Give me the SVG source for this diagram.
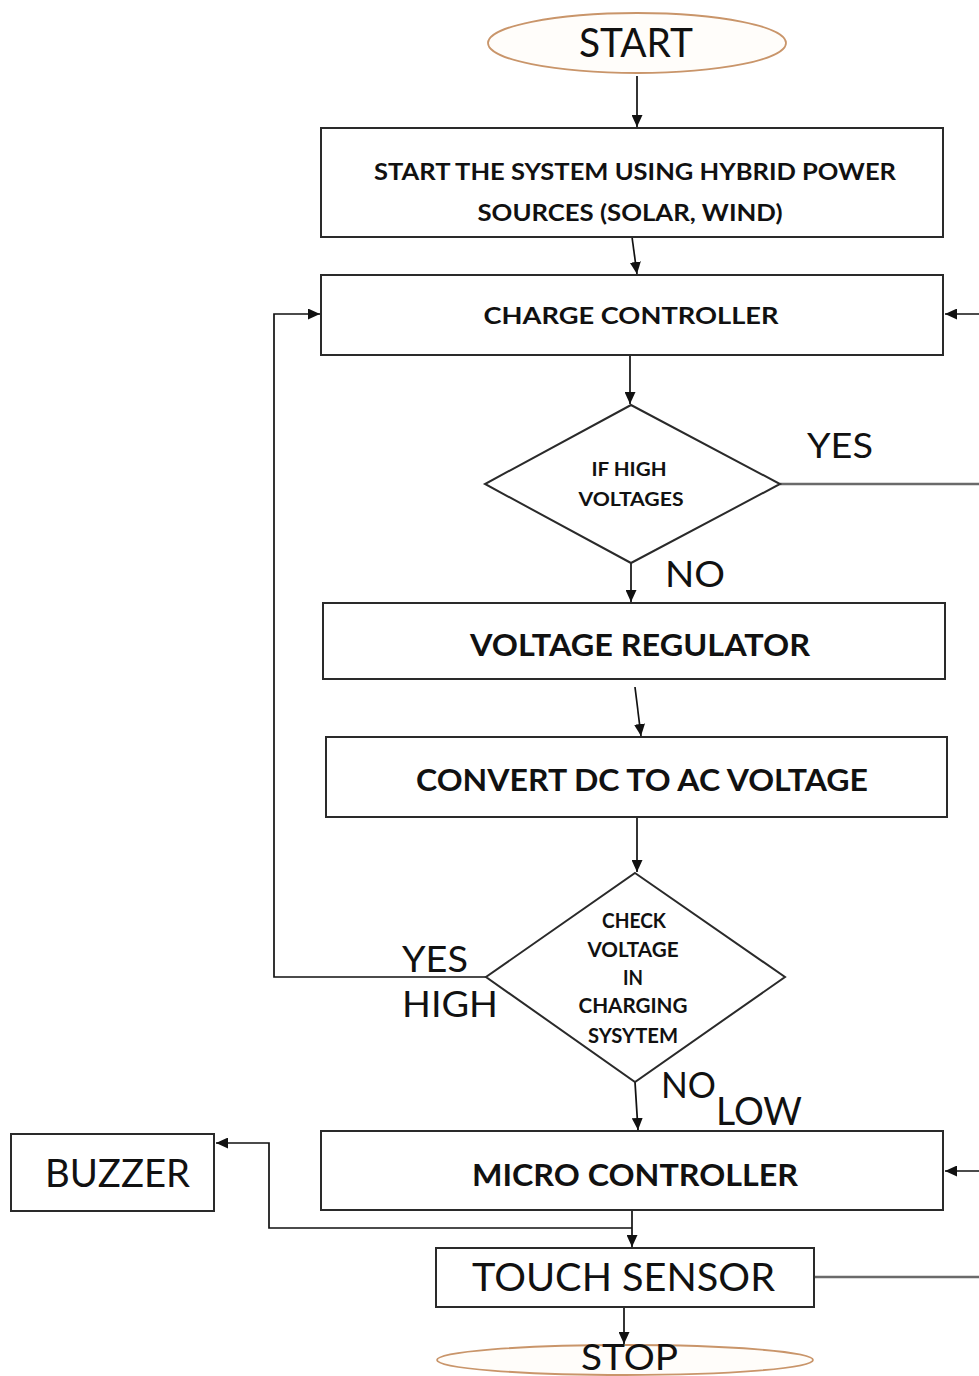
<svg xmlns="http://www.w3.org/2000/svg" width="979" height="1376" viewBox="0 0 979 1376">
<defs>
<marker id="ah" markerUnits="userSpaceOnUse" markerWidth="13" markerHeight="11" refX="12" refY="5.5" orient="auto">
<path d="M0,0 L12,5.5 L0,11 z" fill="#111"/>
</marker>
<style>
.box{fill:#fff;stroke:#2a2a2a;stroke-width:2}
.term{fill:#fffdfa;stroke:#c9956a;stroke-width:1.8}
.c{fill:none;stroke:#111;stroke-width:1.7}
.g{fill:none;stroke:#6a6a6a;stroke-width:2.6}
.b{font-family:Lato,"Liberation Sans",sans-serif;font-weight:bold;fill:#111;text-anchor:middle}
.r{font-family:Lato,"Liberation Sans",sans-serif;font-weight:normal;fill:#111}
</style>
</defs>
<rect width="979" height="1376" fill="#fff"/>

<g id="connectors">
<path class="c" d="M637 76 V127" marker-end="url(#ah)"/>
<path class="c" d="M632 237 L637 274" marker-end="url(#ah)"/>
<path class="c" d="M630 355 V404" marker-end="url(#ah)"/>
<path class="c" d="M631 563 V602" marker-end="url(#ah)"/>
<path class="c" d="M635 687 L641 736" marker-end="url(#ah)"/>
<path class="c" d="M637 817 V872" marker-end="url(#ah)"/>
<path class="c" d="M486 977 H274 V314 H320" marker-end="url(#ah)"/>
<path class="g" d="M780 484 H979"/>
<path class="c" d="M979 314 H945" marker-end="url(#ah)"/>
<path class="c" d="M635 1082 L638 1130" marker-end="url(#ah)"/>
<path class="c" d="M979 1171 H945" marker-end="url(#ah)"/>
<path class="c" d="M632 1180 V1247" marker-end="url(#ah)"/>
<path class="c" d="M632 1228 H269 V1143 H216" marker-end="url(#ah)"/>
<path class="g" d="M814 1277 H979"/>
<path class="c" d="M624 1307 V1344" marker-end="url(#ah)"/>
</g>

<g id="start">
<ellipse class="term" cx="637" cy="43" rx="149" ry="30"/>
<text class="r" x="579" y="57" font-size="41" textLength="114" lengthAdjust="spacingAndGlyphs">START</text>
</g>

<g id="start-system">
<rect class="box" x="321" y="128" width="622" height="109"/>
<text class="b" x="635" y="180" font-size="23" textLength="522" lengthAdjust="spacingAndGlyphs">START THE SYSTEM USING HYBRID POWER</text>
<text class="b" x="630" y="221" font-size="23" textLength="305" lengthAdjust="spacingAndGlyphs">SOURCES (SOLAR, WIND)</text>
</g>

<g id="charge-controller">
<rect class="box" x="321" y="275" width="622" height="80"/>
<text class="b" x="631" y="324" font-size="23" textLength="295" lengthAdjust="spacingAndGlyphs">CHARGE CONTROLLER</text>
</g>

<g id="if-high">
<polygon class="box" points="631,405 780,484 631,563 485,484"/>
<text class="b" x="629" y="476" font-size="19" textLength="75" lengthAdjust="spacingAndGlyphs">IF HIGH</text>
<text class="b" x="631" y="506" font-size="19" textLength="105" lengthAdjust="spacingAndGlyphs">VOLTAGES</text>
</g>

<g id="labels">
<text class="r" x="807" y="458" font-size="35" textLength="66" lengthAdjust="spacingAndGlyphs">YES</text>
<text class="r" x="665" y="587" font-size="37" textLength="60" lengthAdjust="spacingAndGlyphs">NO</text>
<text class="r" x="402" y="972" font-size="37" textLength="66" lengthAdjust="spacingAndGlyphs">YES</text>
<text class="r" x="402" y="1017" font-size="37" textLength="96" lengthAdjust="spacingAndGlyphs">HIGH</text>
<text class="r" x="661" y="1098" font-size="37" textLength="55" lengthAdjust="spacingAndGlyphs">NO</text>
<text class="r" x="716" y="1125" font-size="38" textLength="86" lengthAdjust="spacingAndGlyphs">LOW</text>
</g>

<g id="voltage-regulator">
<rect class="box" x="323" y="603" width="622" height="76"/>
<text class="b" x="640" y="656" font-size="30" textLength="340" lengthAdjust="spacingAndGlyphs">VOLTAGE REGULATOR</text>
</g>

<g id="convert">
<rect class="box" x="326" y="737" width="621" height="80"/>
<text class="b" x="642" y="791" font-size="31" textLength="452" lengthAdjust="spacingAndGlyphs">CONVERT DC TO AC VOLTAGE</text>
</g>

<g id="check-voltage">
<polygon class="box" points="635,873 785,977 635,1082 486,977"/>
<text class="b" x="634" y="928" font-size="20" textLength="64" lengthAdjust="spacingAndGlyphs">CHECK</text>
<text class="b" x="633" y="957" font-size="20" textLength="91" lengthAdjust="spacingAndGlyphs">VOLTAGE</text>
<text class="b" x="633" y="985" font-size="20" textLength="20" lengthAdjust="spacingAndGlyphs">IN</text>
<text class="b" x="633" y="1013" font-size="20" textLength="109" lengthAdjust="spacingAndGlyphs">CHARGING</text>
<text class="b" x="633" y="1043" font-size="20" textLength="90" lengthAdjust="spacingAndGlyphs">SYSYTEM</text>
</g>

<g id="micro-controller">
<rect class="box" x="321" y="1131" width="622" height="79"/>
<text class="b" x="635" y="1186" font-size="30" textLength="326" lengthAdjust="spacingAndGlyphs">MICRO CONTROLLER</text>
</g>

<g id="buzzer">
<rect class="box" x="11" y="1134" width="203" height="77"/>
<text class="r" x="45" y="1187" font-size="38" textLength="145" lengthAdjust="spacingAndGlyphs">BUZZER</text>
</g>

<g id="touch-sensor">
<rect class="box" x="436" y="1248" width="378" height="59"/>
<text class="r" x="472" y="1291" font-size="38" textLength="303" lengthAdjust="spacingAndGlyphs">TOUCH SENSOR</text>
</g>

<g id="stop">
<ellipse class="term" cx="625" cy="1360" rx="188" ry="15"/>
<text class="r" x="581" y="1370" font-size="37" textLength="97" lengthAdjust="spacingAndGlyphs">STOP</text>
</g>
</svg>
